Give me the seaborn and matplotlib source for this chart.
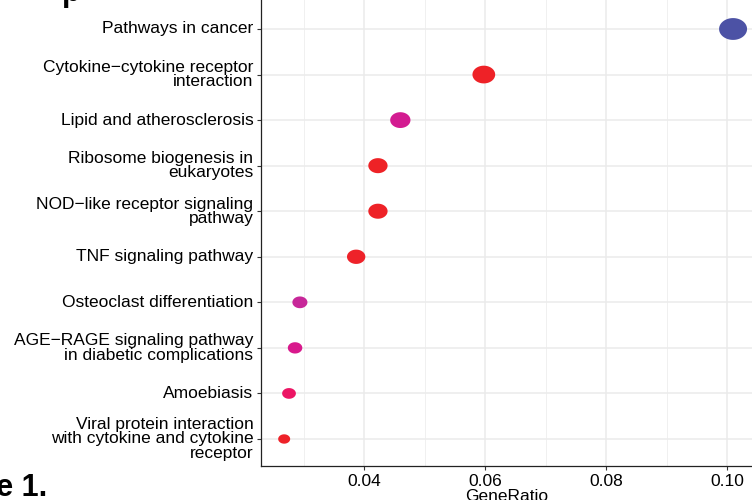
import numpy as np
import pandas as pd
import matplotlib
matplotlib.use("Agg")
import matplotlib.pyplot as plt
from matplotlib.path import Path
from matplotlib.colors import LinearSegmentedColormap, Normalize
from matplotlib.ticker import MultipleLocator
import seaborn as sns

# KEGG enrichment results
M = "\u2212"
pathways = [
    "Pathways in cancer",
    f"Cytokine{M}cytokine receptor\ninteraction",
    "Lipid and atherosclerosis",
    "Ribosome biogenesis in\neukaryotes",
    f"NOD{M}like receptor signaling\npathway",
    "TNF signaling pathway",
    "Osteoclast differentiation",
    f"AGE{M}RAGE signaling pathway\nin diabetic complications",
    "Amoebiasis",
    "Viral protein interaction\nwith cytokine and cytokine\nreceptor",
]
gene_ratio = [0.1010, 0.0598, 0.0460, 0.0423, 0.0423, 0.0387, 0.0294, 0.0286, 0.0276, 0.0268]
counts = [111, 66, 51, 46, 46, 42, 32, 31, 30, 29]
p_adjust = [0.0040, 0.0002, 0.0016, 0.0001, 0.0002, 0.0003, 0.0018, 0.0015, 0.0008, 0.0003]

df = pd.DataFrame({"Description": pathways, "GeneRatio": gene_ratio,
                   "Count": counts, "p.adjust": p_adjust})

plt.rcParams["font.family"] = ["Liberation Sans", "DejaVu Sans"]

# red -> blue colour scale like clusterProfiler
cmap = LinearSegmentedColormap.from_list(
    "padj", [(0.0, "#EE2226"), (0.06, "#EE2229"), (0.18, "#EC1566"),
             (0.37, "#D6198F"), (0.44, "#C6289A"), (1.0, "#4C52A5")])
norm = Normalize(vmin=0.0001, vmax=0.0040)

# ggplot-style size scale (area ~ rescaled count)
cmin, cmax = min(counts), max(counts)
def area(c, dmin=12, dmax=28):
    d = dmin + np.sqrt((c - cmin) / (cmax - cmin)) * (dmax - dmin)
    return (d * 72 / 100) ** 2
sizes = {c: area(c) for c in set(counts)}

# slightly squashed dots, as in the reference
t = np.linspace(0, 2 * np.pi, 64)
ellipse = Path(np.column_stack([0.5 * np.cos(t), 0.39 * np.sin(t)]), closed=True)

fig = plt.figure(figsize=(7.52, 5.0), dpi=100)
ax = fig.add_axes([261 / 752, 34 / 500, (752 - 261) / 752, 466 / 500])

sns.scatterplot(data=df, x="GeneRatio", y="Description", hue="p.adjust",
                size="Count", sizes=sizes, palette=cmap, hue_norm=norm,
                marker=ellipse, linewidth=0, edgecolor="none", legend=False,
                ax=ax, zorder=3)

ax.set_xlim(0.02297, 0.10413)
ax.set_ylim(9.593, -0.6365)
ax.xaxis.set_major_locator(MultipleLocator(0.02))
ax.xaxis.set_minor_locator(MultipleLocator(0.01))
ax.set_yticks(range(len(pathways)))
ax.set_yticklabels(pathways, linespacing=0.95, va="center")

ax.set_axisbelow(True)
ax.grid(which="major", color="#EBEBEB", lw=1.1)
ax.grid(which="minor", axis="x", color="#F0F0F0", lw=0.7)
for s in ["top", "right"]:
    ax.spines[s].set_visible(False)
for s in ["left", "bottom"]:
    ax.spines[s].set_color("#222222")
    ax.spines[s].set_linewidth(0.9)

ax.tick_params(axis="both", which="major", length=3, width=0.8, color="#333333",
               pad=2.5, labelsize=12.5, labelcolor="black")
ax.tick_params(axis="x", which="minor", length=0)
ax.set_xlabel("GeneRatio", fontsize=12.5, labelpad=0)
ax.set_ylabel("")

# cropped figure caption pieces
fig.text(47 / 752, 4 / 500, "Figure 1.", ha="right", va="baseline",
         fontsize=22, fontweight="bold")
fig.text(62 / 752, 498.5 / 500, "p", ha="left", va="baseline",
         fontsize=22, fontweight="bold")

fig.savefig("out.png", dpi=100)
